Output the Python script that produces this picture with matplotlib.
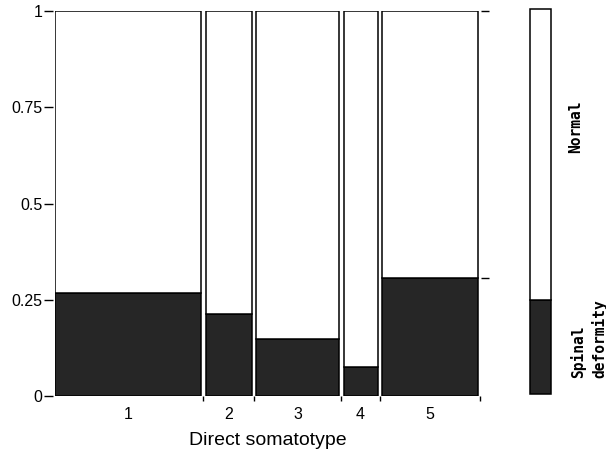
import numpy as np
import matplotlib
matplotlib.use("Agg")
import matplotlib.pyplot as plt

# Spineplot data
somatotypes = ["1", "2", "3", "4", "5"]
widths = np.array([146, 46, 83, 34, 96])          # relative group sizes
deformity = np.array([0.268, 0.214, 0.148, 0.076, 0.307])
marginal_deformity = 0.245
ytick_vals = [0, 0.25, 0.5, 0.75, 1]
ytick_labels = ["0", "0.25", "0.5", "0.75", "1"]

dark = "#262626"
gap = 4.5
W, H = 606, 453

lefts = np.concatenate([[0], np.cumsum(widths + gap)[:-1]])
rights = lefts + widths
centers = lefts + widths / 2
xmax = rights[-1] + gap / 2 + 0.5

fig = plt.figure(figsize=(W / 100, H / 100), dpi=100)
ax = fig.add_axes([55 / W, (H - 396) / H, xmax / W, 385 / H])

ax.bar(lefts, deformity, width=widths, align="edge", color=dark,
       edgecolor="black", linewidth=1.1)
ax.bar(lefts, 1 - deformity, bottom=deformity, width=widths, align="edge",
       color="white", edgecolor="black", linewidth=1.1)
ax.set_xlim(0, xmax)
ax.set_ylim(0, 1)
for s in ax.spines.values():
    s.set_visible(False)
ax.spines["left"].set_position(("outward", 1.5))

ax.set_yticks(ytick_vals, ytick_labels, family="Liberation Sans", fontsize=11.5)
ax.tick_params(axis="y", length=6.5, width=1, pad=1)

ax.set_xticks(centers, somatotypes, family="Liberation Sans", fontsize=11.5)
ax.set_xticks(rights + gap / 2, minor=True)
ax.tick_params(axis="x", which="major", length=0, pad=8)
ax.tick_params(axis="x", which="minor", length=3.6, width=1)
ax.set_xlabel("Direct somatotype", family="Liberation Sans", fontsize=14,
              labelpad=7)

axr = ax.twinx()
axr.set_ylim(0, 1)
axr.set_yticks([deformity[-1], 1], ["", ""])
axr.tick_params(axis="y", length=5.5, width=1)
for s in axr.spines.values():
    s.set_visible(False)

# marginal bar
axm = fig.add_axes([530 / W, (H - 394) / H, 21 / W, 385 / H])
axm.bar([0], [marginal_deformity], width=1, align="edge", color=dark,
        edgecolor="black", linewidth=1.1, clip_on=False)
axm.bar([0], [1 - marginal_deformity], bottom=marginal_deformity, width=1,
        align="edge", color="white", edgecolor="black", linewidth=1.1,
        clip_on=False)
axm.set_xlim(0, 1)
axm.set_ylim(0, 1)
axm.axis("off")

mono = dict(family="DejaVu Sans Mono", fontweight="bold", fontsize=10.5,
            rotation=90, ha="center")
fig.text(576 / W, (H - 153) / H, "Normal", va="bottom", **mono)
fig.text(578 / W, (H - 378) / H, "Spinal", va="bottom", **mono)
fig.text(599 / W, (H - 378) / H, "deformity", va="bottom", **mono)

fig.savefig("out.png", dpi=100)
